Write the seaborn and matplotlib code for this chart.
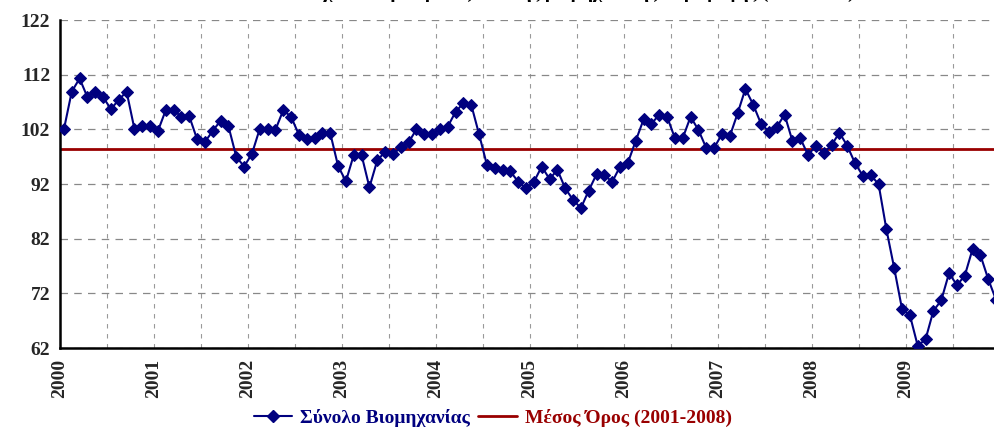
import numpy as np
import pandas as pd
import matplotlib
matplotlib.use("Agg")
import matplotlib.pyplot as plt
import seaborn as sns
from matplotlib.lines import Line2D

# monthly index values (Jan 2000 - Dec 2009)
years = list(range(2000, 2010))
v2000 = [102.0, 108.9, 111.3, 107.9, 108.9, 107.9, 105.7, 107.4, 108.9, 102.1, 102.6, 102.6]
v2001 = [101.7, 105.5, 105.5, 104.3, 104.4, 100.2, 99.7, 101.7, 103.6, 102.6, 97.0, 95.2]
v2002 = [97.5, 102.1, 102.1, 101.9, 105.5, 104.3, 101.0, 100.2, 100.4, 101.3, 101.3, 95.3]
v2003 = [92.5, 97.3, 97.3, 91.4, 96.3, 97.9, 97.4, 98.7, 99.6, 102.0, 101.1, 101.1]
v2004 = [102.1, 102.5, 105.2, 106.8, 106.5, 101.1, 95.5, 95.0, 94.6, 94.3, 92.4, 91.2]
v2005 = [92.4, 95.2, 92.9, 94.6, 91.2, 89.1, 87.6, 90.8, 93.8, 93.6, 92.4, 95.2]
v2006 = [95.9, 99.9, 103.8, 103.0, 104.7, 104.3, 100.4, 100.4, 104.3, 101.9, 98.6, 98.6]
v2007 = [101.1, 100.7, 104.9, 109.4, 106.5, 103.0, 101.6, 102.4, 104.7, 99.9, 100.4, 97.3]
v2008 = [99.0, 97.7, 99.1, 101.4, 99.0, 95.8, 93.5, 93.6, 92.0, 83.7, 76.6, 69.1]
v2009 = [68.0, 62.4, 63.6, 68.8, 70.7, 75.7, 73.5, 75.2, 80.1, 79.0, 74.6, 70.8]
mean_2001_2008 = 98.4

series_label = "Σύνολο Βιομηχανίας"
mean_label = "Μέσος Όρος (2001-2008)"
title_text = "Εποχικά διορθωμένος δείκτης βιομηχανικής παραγωγής (2005=100)"

values = v2000 + v2001 + v2002 + v2003 + v2004 + v2005 + v2006 + v2007 + v2008 + v2009
df = pd.DataFrame({
    "t": [2000 + (i + 0.5) / 12 for i in range(len(values))],
    "value": values,
})

sns.set_style("white")
plt.rcParams['font.family'] = ['Liberation Serif', 'DejaVu Serif']
plt.rcParams['font.weight'] = 'bold'

navy = "#00007f"
dark_red = "#990000"

fig = plt.figure(figsize=(9.95, 4.33), dpi=100)
ax = fig.add_axes([0.0603, 0.1963, 0.9447, 0.7575])

ax.axhline(mean_2001_2008, color=dark_red, linewidth=2, zorder=2)
sns.lineplot(data=df, x="t", y="value", ax=ax, color=navy, linewidth=1.5,
             marker="D", markersize=6, markeredgecolor=navy, zorder=3)

ax.set_xlim(2000, 2010)
ax.set_ylim(62, 122)
ax.set_yticks(np.arange(62, 123, 10))
ax.set_xticks(years)
ax.set_xticks(np.arange(2000.5, 2010, 1.0), minor=True)
ax.set_xticklabels([str(y) for y in years], rotation=90, fontsize=14, fontweight='bold')
ax.set_yticklabels([str(v) for v in range(62, 123, 10)], fontsize=14, fontweight='bold')

ax.grid(axis='y', color='#888888', linestyle=(0, (6, 5)), linewidth=0.9)
ax.grid(axis='x', which='both', color='#999999', linestyle=(0, (4, 5)), linewidth=0.8)
ax.set_axisbelow(True)

ax.tick_params(axis='both', which='major', direction='out', length=5, width=1.5, color='black')
ax.tick_params(axis='x', which='minor', length=0)
ax.tick_params(axis='x', pad=3)
ax.tick_params(axis='y', pad=2)
ax.set_xlabel("")
ax.set_ylabel("")

for s in ['top', 'right']:
    ax.spines[s].set_visible(False)
for s in ['left', 'bottom']:
    ax.spines[s].set_color('black')
    ax.spines[s].set_linewidth(1.8)

# title sits above the canvas, only its descenders show, as in the cropped source
fig.text(0.575, 1.004, title_text, ha='center', va='baseline',
         fontsize=14, fontweight='bold', color='black')

handles = [
    Line2D([], [], color=navy, linewidth=1.5, marker="D", markersize=6),
    Line2D([], [], color=dark_red, linewidth=2),
]
leg = fig.legend(handles, [series_label, mean_label], loc='center',
                 bbox_to_anchor=(0.495, 0.034), ncol=2, frameon=False,
                 fontsize=14, handlelength=2.0, columnspacing=0.4, handletextpad=0.4)
for txt, c in zip(leg.get_texts(), [navy, dark_red]):
    txt.set_color(c)
    txt.set_fontweight('bold')

fig.savefig("out.png", dpi=100)
